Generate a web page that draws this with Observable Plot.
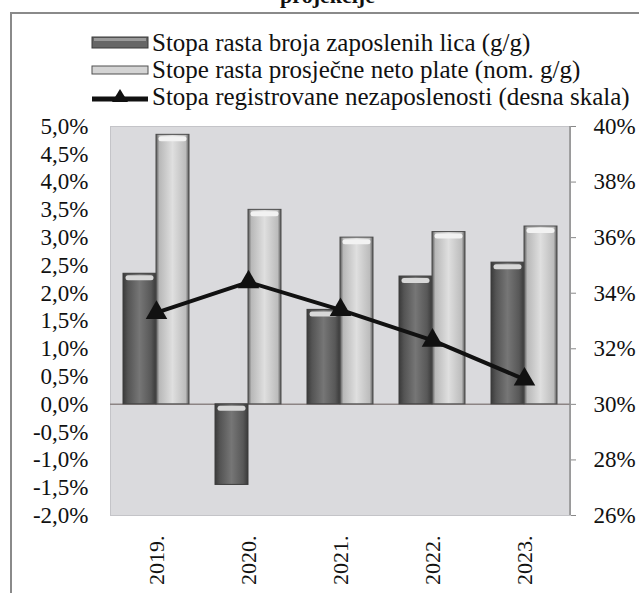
<!DOCTYPE html>
<html>
<head>
<meta charset="utf-8">
<script src="https://cdn.jsdelivr.net/npm/d3@7"></script>
<script src="https://cdn.jsdelivr.net/npm/@observablehq/plot@0.6"></script>
<style>
  html, body { margin: 0; padding: 0; background: #fff; }
  #wrap { position: relative; width: 639px; height: 593px; overflow: hidden; background: #fff; font-family: "Liberation Serif", "Times New Roman", serif; color: #111; }
  #frame { position: absolute; left: 10px; top: 12px; width: 660px; height: 640px; border-left: 2px solid #8a8a8a; border-top: 2px solid #8a8a8a; }
  #title { position: absolute; left: 8px; width: 639px; top: -16px; text-align: center; font-weight: bold; font-size: 22px; line-height: 24px; }
  #legend { position: absolute; left: 91px; top: 29px; font-size: 25px; line-height: 27px; }
  .row { display: flex; align-items: center; height: 27px; white-space: nowrap; }
  .row svg { flex: none; margin-right: 3px; }
  #chart { position: absolute; left: 0; top: 110px; }
</style>
</head>
<body>
<div id="wrap">
  <div id="frame"></div>
  <div id="title">projekcije</div>
  <div id="legend"></div>
  <div id="chart"></div>
</div>
<script>
const years = ["2019.", "2020.", "2021.", "2022.", "2023."];
const employmentGrowth = [2.35, -1.45, 1.7, 2.3, 2.55];
const wageGrowth = [4.85, 3.5, 3.0, 3.1, 3.2];
const unemploymentRate = [33.3, 34.4, 33.4, 32.3, 30.9];
const seriesNames = [
  "Stopa rasta broja zaposlenih lica (g/g)",
  "Stope rasta prosječne neto plate (nom. g/g)",
  "Stopa registrovane nezaposlenosti (desna skala)"
];
const leftTicks = [-4, -3, -2, -1, 0, 1, 2, 3, 4, 5, 6, 7, 8, 9, 10].map(v => v / 2);
const rightTicks = [26, 28, 30, 32, 34, 36, 38, 40];

// right scale (26..40) mapped onto left scale (-2..5)
const toLeft = u => (u - 30) / 2;

const data = years.map((y, i) => ({
  year: y,
  emp: employmentGrowth[i],
  wage: wageGrowth[i],
  unemp: unemploymentRate[i]
}));

const fmtLeft = v => v.toFixed(1).replace(".", ",") + "%";

const plot = Plot.plot({
  width: 639,
  height: 483,
  marginTop: 16,
  marginBottom: 78,
  marginLeft: 110,
  marginRight: 69,
  x: { domain: years, paddingInner: 0.28, paddingOuter: 0.14, axis: null, label: null },
  y: { domain: [-2, 5], axis: null, label: null },
  style: { fontFamily: "Liberation Serif, Times New Roman, serif", fontSize: "23px", background: "transparent", color: "#111" },
  marks: [
    Plot.frame({ fill: "#dadadd", stroke: "#c4c4c8" }),
    Plot.ruleY([0], { stroke: "#8c8484", strokeWidth: 1.5 }),
    Plot.barY(data, { x: "year", y: "emp", insetRight: 33, fill: "url(#gDark)", stroke: "#3c3c3c", strokeWidth: 1 }),
    Plot.barY(data, { x: "year", y: "wage", insetLeft: 33, fill: "url(#gLight)", stroke: "#4a4a4a", strokeWidth: 1 }),
    Plot.tickY(data, { x: "year", y: d => Math.max(d.emp, 0), insetLeft: 5, insetRight: 38, dy: 4, stroke: "#d8d8d8", strokeWidth: 5, strokeLinecap: "round" }),
    Plot.tickY(data, { x: "year", y: "wage", insetLeft: 38, insetRight: 5, dy: 4, stroke: "#f2f2f2", strokeWidth: 5, strokeLinecap: "round" }),
    Plot.line(data, { x: "year", y: d => toLeft(d.unemp), stroke: "#111", strokeWidth: 4 }),
    Plot.dot(data, { x: "year", y: d => toLeft(d.unemp), symbol: "triangle", r: 8, fill: "#111", stroke: "none" }),
    Plot.axisY({ anchor: "left", ticks: leftTicks, tickFormat: fmtLeft, tickSize: 0, tickPadding: 22, fontSize: 23, label: null }),
    Plot.axisY({ anchor: "right", ticks: rightTicks.map(toLeft), tickFormat: v => Math.round(30 + 2 * v) + "%", tickSize: 5, tickPadding: 18, stroke: "#888", fontSize: 23, label: null }),
    Plot.axisX({ tickRotate: -90, tickSize: 0, tickPadding: 20, fontSize: 22, label: null })
  ]
});

// gradients for the cylinder-like bars
const svg = d3.select(plot.tagName.toLowerCase() === "svg" ? plot : plot.querySelector("svg"));
const defs = svg.insert("defs", ":first-child");
function grad(id, stops) {
  const g = defs.append("linearGradient").attr("id", id).attr("x1", "0").attr("x2", "1").attr("y1", "0").attr("y2", "0");
  stops.forEach(([o, c]) => g.append("stop").attr("offset", o).attr("stop-color", c));
}
grad("gDark", [["0", "#3a3a3a"], ["0.15", "#545454"], ["0.5", "#767676"], ["0.85", "#585858"], ["1", "#3a3a3a"]]);
grad("gLight", [["0", "#555"], ["0.1", "#b8b8b8"], ["0.5", "#dfdfdf"], ["0.9", "#bcbcbc"], ["1", "#555"]]);

document.getElementById("chart").appendChild(plot);

// right axis line
const xr = 639 - 69, yTop = 16, yBot = 483 - 78;
svg.append("line").attr("x1", xr).attr("x2", xr).attr("y1", yTop).attr("y2", yBot).attr("stroke", "#8c8c8c").attr("stroke-width", 1.5);

// legend
const swatches = [
  `<svg width="58" height="16"><rect x="1" y="2" width="56" height="11" fill="#666" stroke="#3a3a3a"/><rect x="3" y="3" width="52" height="3" fill="#9a9a9a"/></svg>`,
  `<svg width="58" height="16"><rect x="1" y="4" width="56" height="8" fill="#d4d4d4" stroke="#505050"/></svg>`,
  `<svg width="58" height="18"><line x1="1" x2="57" y1="11" y2="11" stroke="#111" stroke-width="5"/><path d="M29,1 L37,14 L21,14 Z" fill="#111"/></svg>`
];
const leg = document.getElementById("legend");
seriesNames.forEach((name, i) => {
  const row = document.createElement("div");
  row.className = "row";
  row.innerHTML = swatches[i] + `<span>${name}</span>`;
  leg.appendChild(row);
});
</script>
</body>
</html>
